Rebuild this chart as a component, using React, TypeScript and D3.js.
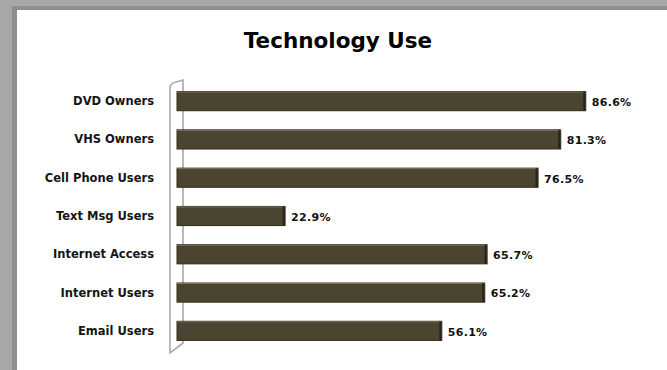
import React from "react";
import * as d3 from "d3";

const categories = ["DVD Owners", "VHS Owners", "Cell Phone Users", "Text Msg Users", "Internet Access", "Internet Users", "Email Users"];
const values = [86.6, 81.3, 76.5, 22.9, 65.7, 65.2, 56.1];
const valueLabels = ["86.6%", "81.3%", "76.5%", "22.9%", "65.7%", "65.2%", "56.1%"];
const title = "Technology Use";

const W = 667;
const H = 370;

export default function App() {
  const x = d3.scaleLinear().domain([0, 100]).range([177, 649]);
  const y = d3.scaleBand<string>().domain(categories).range([82, 350]).paddingInner(0.5).paddingOuter(0.25);
  const bh = y.bandwidth();
  const font = "'DejaVu Sans', sans-serif";
  return (
    <svg width={W} height={H} style={{ position: "absolute", left: 0, top: 0 }}>
      <rect x={0} y={0} width={W} height={H} fill="#a7a7a7" />
      <rect x={12} y={6} width={W} height={H} fill="#8e8e8e" />
      <rect x={17} y={10} width={W} height={H} fill="#ffffff" />
      <text x={338} y={48} textAnchor="middle" fontFamily={font} fontWeight="bold" fontSize={21.5} fill="#000">{title}</text>
      <path d="M170,87 Q171,83 176,82 L183,80 L183,343 L170,353 Z" fill="#fff" stroke="#a9a9a9" strokeWidth={1.6} />
      {categories.map((c, i) => {
        const yy = y(c)!;
        const x0 = x(0);
        const x1 = x(values[i]);
        return (
          <g key={c}>
            <rect x={x0} y={yy} width={x1 - x0} height={bh} fill="#4b4430" stroke="#2f2a1d" strokeWidth={1} />
            <line x1={x0} x2={x1} y1={yy + 0.5} y2={yy + 0.5} stroke="#7a735e" strokeWidth={1} />
            <line x1={x1 - 1.5} x2={x1 - 1.5} y1={yy} y2={yy + bh} stroke="#2a2518" strokeWidth={2} />
            <text x={154} y={yy + bh / 2} dy="0.35em" textAnchor="end" fontFamily={font} fontWeight="bold" fontSize={11.5} fill="#151515">{c}</text>
            <text x={x1 + 6} y={yy + bh / 2 + 1} dy="0.35em" fontFamily={font} fontWeight="bold" fontSize={11} letterSpacing={0.3} fill="#111">{valueLabels[i]}</text>
          </g>
        );
      })}
    </svg>
  );
}
